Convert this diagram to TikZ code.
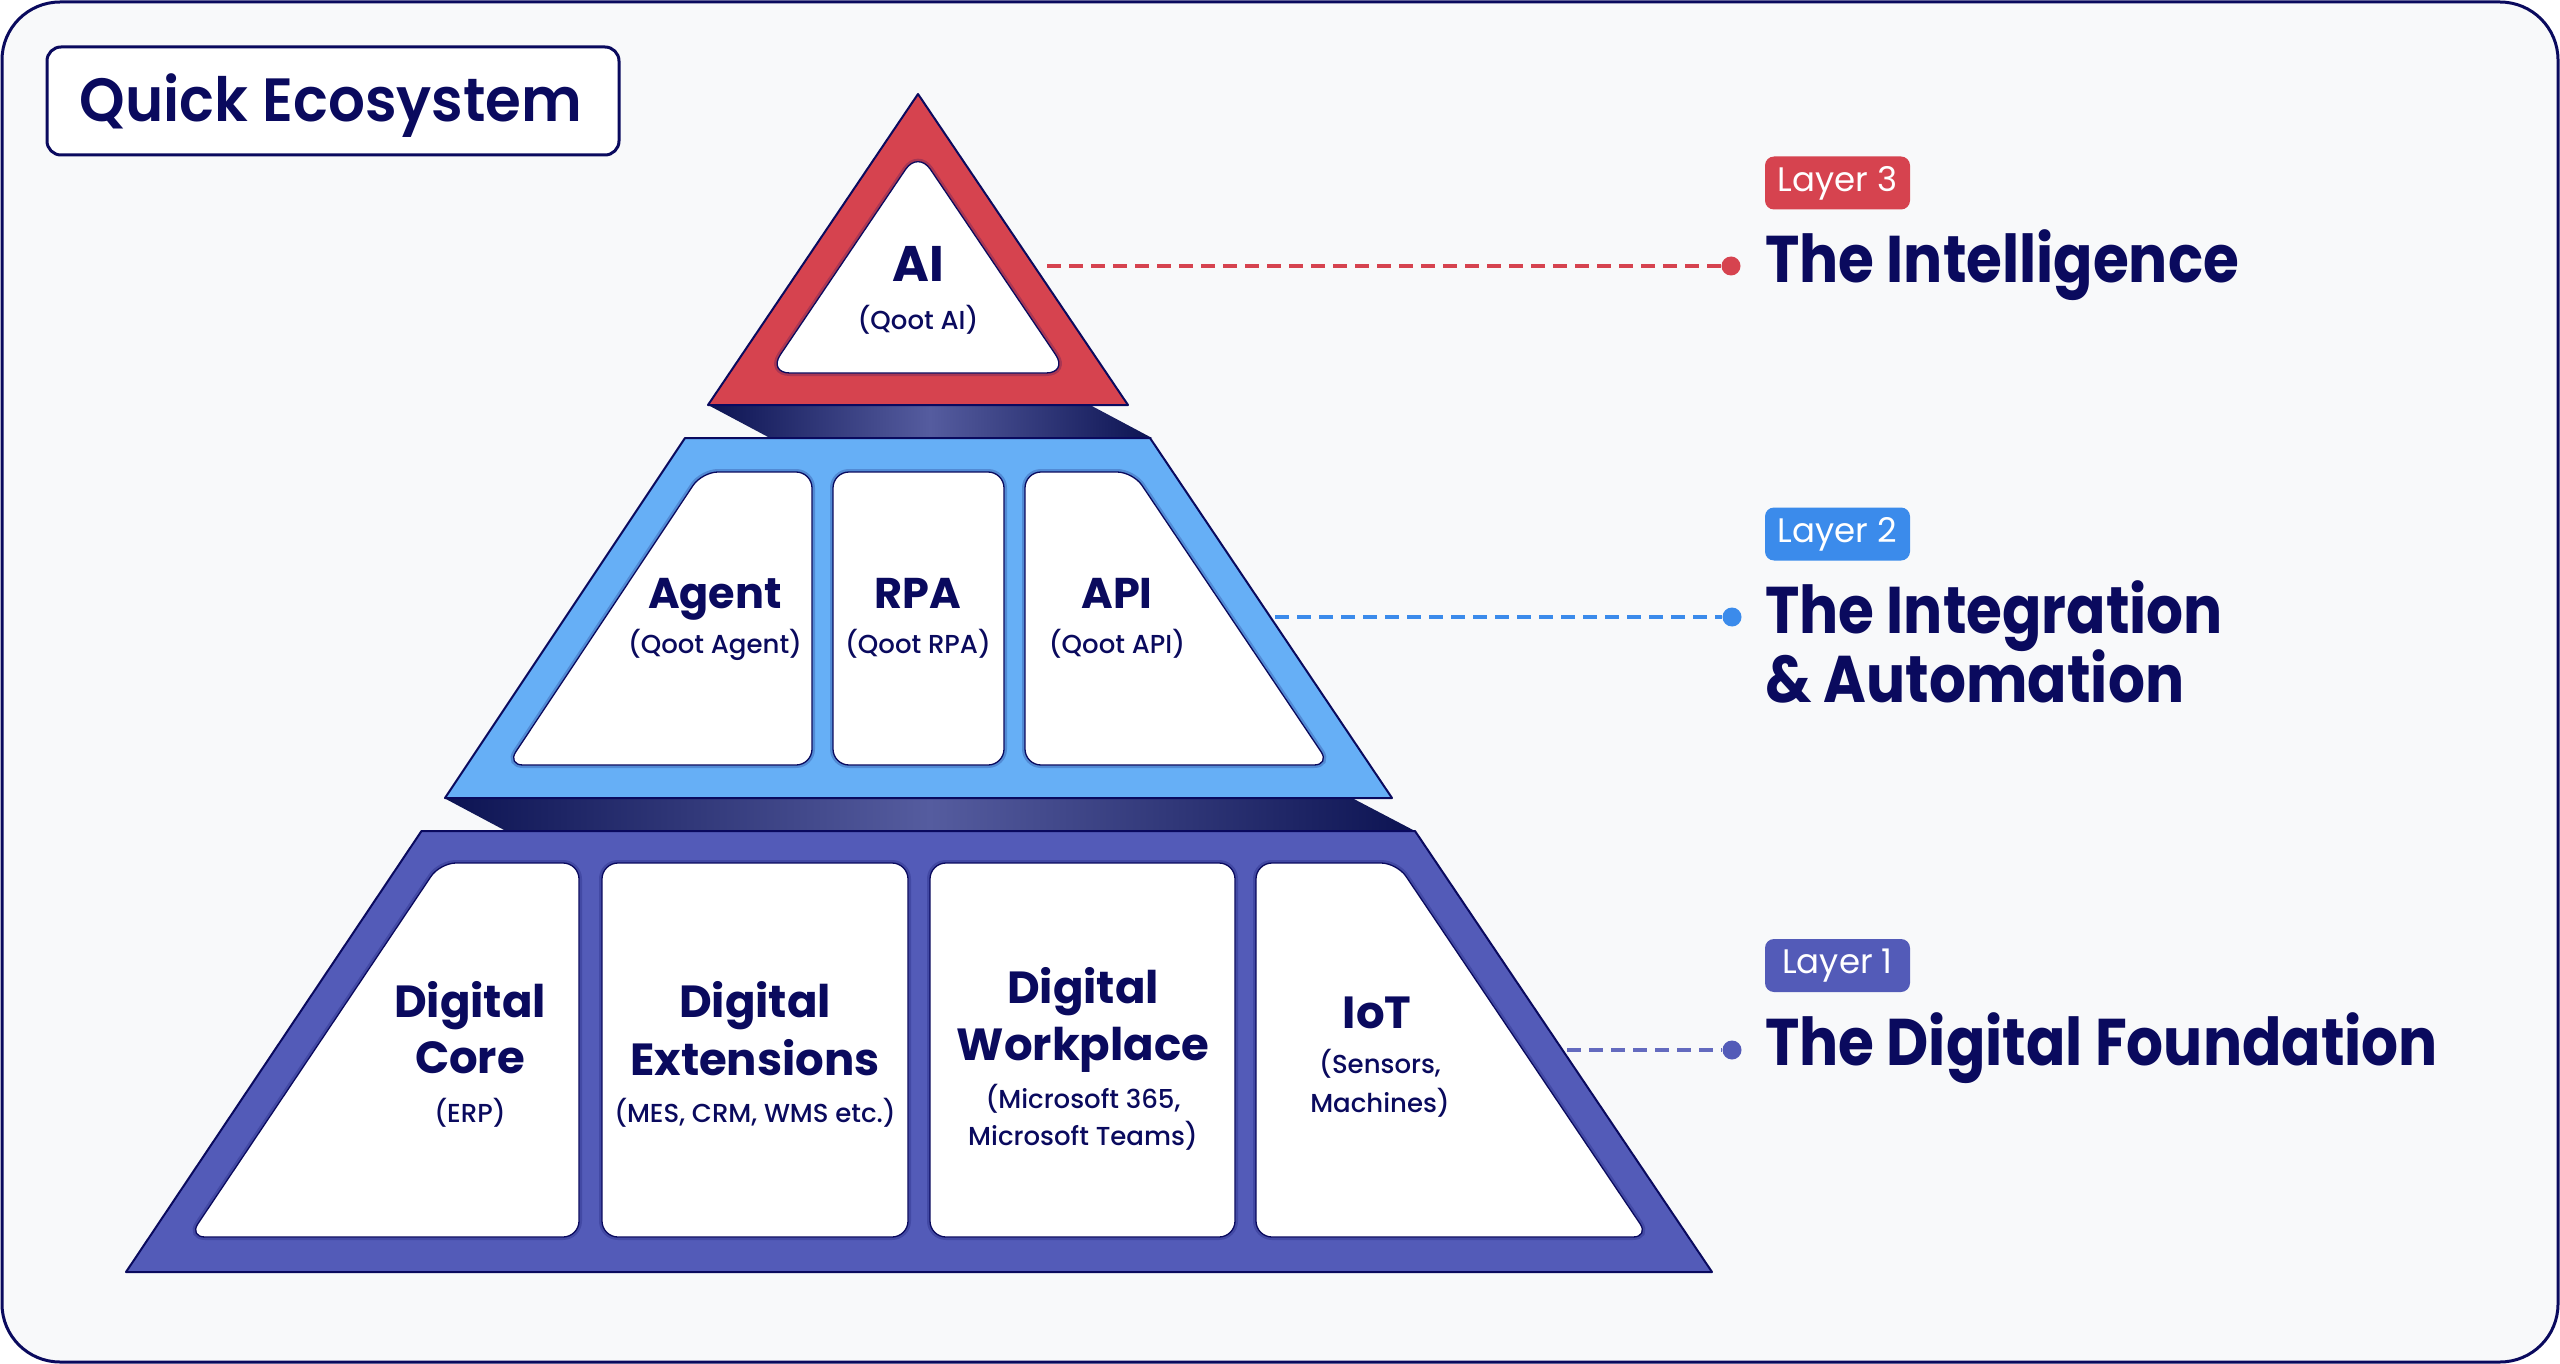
\documentclass[tikz,border=0pt]{standalone}
\usepackage{fontspec}
\setmainfont{Poppins}
\newfontfamily\popB{Poppins Bold}
\newfontfamily\popBn{Poppins Bold}[FakeStretch=0.88]
\newfontfamily\popSB{Poppins SemiBold}[FakeStretch=0.95]
\newfontfamily\popM{Poppins Medium}
\newfontfamily\popR{Poppins}
\usetikzlibrary{shapes.geometric}
\definecolor{navy}{HTML}{0A0A5E}
\definecolor{bgc}{HTML}{F8F9FA}
\definecolor{redL}{HTML}{D6434F}
\definecolor{blueL}{HTML}{66AFF6}
\definecolor{indL}{HTML}{535BB8}
\definecolor{blueB}{HTML}{3B8BEB}
\definecolor{bandD}{HTML}{0C1352}
\definecolor{bandM}{HTML}{555C9F}
\begin{document}
\begin{tikzpicture}[x=1pt,y=-1pt,
  layer/.style={draw=navy, line width=2pt, line join=round},
  cell/.style={fill=white, draw=navy, line width=1.3pt, rounded corners=16pt,
     preaction={draw=navy, draw opacity=0.22, line width=6pt}},
  band/.style={left color=bandD, right color=bandD, middle color=bandM},
  hd/.style={font=\popB\fontsize{45}{56}\selectfont, text=navy, anchor=base, inner sep=0pt},
  hdm/.style={font=\popB\fontsize{43}{54}\selectfont, text=navy, anchor=base, inner sep=0pt},
  sb/.style={font=\popM\fontsize{26}{30}\selectfont, text=navy, anchor=base, inner sep=0pt},
  rt/.style={font=\popBn\fontsize{66}{70}\selectfont, text=navy, anchor=base west, inner sep=0pt},
  badge/.style={font=\popR\fontsize{34}{40}\selectfont, text=white, rounded corners=9pt,
     minimum width=145pt, minimum height=53pt, inner sep=0pt},
  conn/.style={line width=4pt, dash pattern=on 14pt off 8pt},
  dotc/.style={circle, minimum size=19pt, inner sep=0pt}]
\useasboundingbox (0,0) rectangle (2560,1364);
\draw[navy, line width=3pt, fill=bgc, rounded corners=58pt] (2,2) rectangle (2558,1362);

% title
\node[draw=navy, line width=3pt, fill=white, rounded corners=14pt, minimum width=572pt, minimum height=108pt, inner sep=0pt] (titlebox) at (333,101) {};
\node[font=\popSB\fontsize{61}{70}\selectfont, text=navy, anchor=base, inner sep=0pt] (title) at (331,122) {Quick Ecosystem};

% bands
\path[band] (708,405) -- (1090,405) -- (1152,438) -- (770,438) -- cycle;
\path[band] (444,798) -- (1352,798) -- (1415,831) -- (506,831) -- cycle;

% layer 3
\draw[layer, fill=redL] (918,94) -- (1128,405) -- (708,405) -- cycle;
\draw[cell, rounded corners=22pt] (918,151) -- (1068,373) -- (768,373) -- cycle;
% layer 2
\draw[layer, fill=blueL] (685,438) -- (1150,438) -- (1392,798) -- (445,798) -- cycle;
\draw[cell] (702,472) -- (812,472) -- (812,765) -- (507,765) -- cycle;
\draw[cell] (833,472) -- (1004,472) -- (1004,765) -- (833,765) -- cycle;
\draw[cell] (1025,472) -- (1133,472) -- (1330,765) -- (1025,765) -- cycle;
% layer 1
\draw[layer, fill=indL] (421.5,831) -- (1415,831) -- (1712,1272) -- (126,1272) -- cycle;
\draw[cell] (440,863) -- (579,863) -- (579,1237) -- (189,1237) -- cycle;
\draw[cell] (602,863) -- (908,863) -- (908,1237) -- (602,1237) -- cycle;
\draw[cell] (930,863) -- (1235,863) -- (1235,1237) -- (930,1237) -- cycle;
\draw[cell] (1256,863) -- (1397,863) -- (1649,1237) -- (1256,1237) -- cycle;

% texts layer 3
\node[font=\popB\fontsize{50}{56}\selectfont, text=navy, anchor=base, inner sep=0pt] (ai) at (918,282) {AI};
\node[sb] (aisub) at (918,330) {(Qoot AI)};
% layer 2
\node[hdm] (agent) at (715,608) {Agent};
\node[sb] (agentsub) at (715,653) {(Qoot Agent)};
\node[hdm] (rpa) at (918,608) {RPA};
\node[sb] (rpasub) at (918,653) {(Qoot RPA)};
\node[hdm] (api) at (1117,608) {API};
\node[sb] (apisub) at (1117,653) {(Qoot API)};
% layer 1
\node[hd] (coreA) at (470,1017) {Digital};
\node[hd] (coreB) at (470,1073) {Core};
\node[sb] (coreC) at (470,1122) {(ERP)};
\node[hd] (extA) at (755,1017) {Digital};
\node[hd] (extB) at (755,1075) {Extensions};
\node[sb] (extC) at (755,1122) {(MES, CRM, WMS etc.)};
\node[hd] (wpA) at (1083,1003) {Digital};
\node[hd] (wpB) at (1083,1060) {Workplace};
\node[sb] (wpC) at (1083,1108) {(Microsoft 365,};
\node[sb] (wpD) at (1083,1145) {Microsoft Teams)};
\node[hd] (iotA) at (1377,1028) {IoT};
\node[sb] (iotB) at (1380,1073) {(Sensors,};
\node[sb] (iotC) at (1380,1112) {Machines)};

% right labels
\node[badge, fill=redL] (b3) at (1837.5,183) {Layer 3};
\node[rt] (t3) at (1765,283) {The Intelligence};
\node[badge, fill=blueB] (b2) at (1837.5,534) {Layer 2};
\node[rt] (t2a) at (1765,633) {The Integration};
\node[rt] (t2b) at (1765,702) {\& Automation};
\node[badge, fill=indL] (b1) at (1837.5,965.5) {Layer 1};
\node[rt] (t1) at (1765,1065) {The Digital Foundation};

% connectors
\coordinate (c3) at (1047,266);
\coordinate (c2) at (1275,617);
\coordinate (c1) at (1567,1050);
\node[dotc, fill=redL] (d3) at (1731,266) {};
\node[dotc, fill=blueB] (d2) at (1732,617) {};
\node[dotc, fill=indL] (d1) at (1732,1050) {};
\draw[conn, redL] (c3) -- (d3);
\draw[conn, blueB] (c2) -- (d2);
\draw[conn, indL!90!white] (c1) -- (d1);
\end{tikzpicture}
\end{document}
